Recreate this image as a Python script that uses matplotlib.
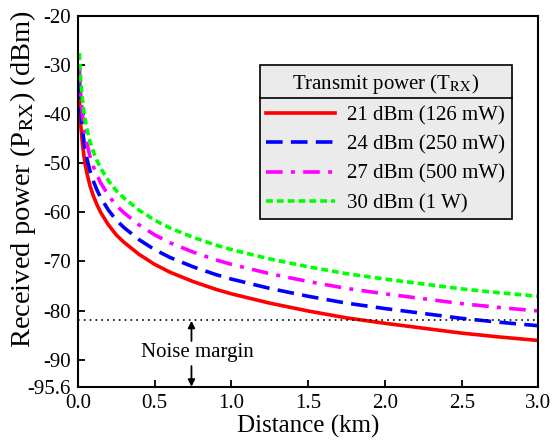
import matplotlib
matplotlib.use("Agg")
import matplotlib.pyplot as plt
from matplotlib.lines import Line2D
from matplotlib.transforms import IdentityTransform

plt.rcParams['font.family'] = ['Liberation Serif', 'DejaVu Serif']
plt.rcParams['mathtext.fontset'] = 'stix'

# distance (km) and received power (dBm) for each transmit power
dist = [0.01, 0.015, 0.02, 0.03, 0.04, 0.05, 0.06, 0.08, 0.1, 0.125, 0.15, 0.2,
        0.25, 0.3, 0.4, 0.5, 0.6, 0.75, 0.9, 1.0, 1.25, 1.5, 1.75, 2.0, 2.25,
        2.5, 2.75, 3.0]
p21 = [-36.6, -40.1, -42.6, -46.1, -48.6, -50.6, -52.2, -54.7, -56.6, -58.5,
       -60.1, -62.6, -64.6, -66.1, -68.6, -70.6, -72.2, -74.1, -75.7, -76.6,
       -78.5, -80.1, -81.5, -82.6, -83.6, -84.6, -85.4, -86.1]
p24 = [-33.6, -37.1, -39.6, -43.1, -45.6, -47.6, -49.2, -51.7, -53.6, -55.5,
       -57.1, -59.6, -61.6, -63.1, -65.6, -67.6, -69.2, -71.1, -72.7, -73.6,
       -75.5, -77.1, -78.5, -79.6, -80.6, -81.6, -82.4, -83.1]
p27 = [-30.6, -34.1, -36.6, -40.1, -42.6, -44.6, -46.2, -48.7, -50.6, -52.5,
       -54.1, -56.6, -58.6, -60.1, -62.6, -64.6, -66.2, -68.1, -69.7, -70.6,
       -72.5, -74.1, -75.5, -76.6, -77.6, -78.6, -79.4, -80.1]
p30 = [-27.6, -31.1, -33.6, -37.1, -39.6, -41.6, -43.2, -45.7, -47.6, -49.5,
       -51.1, -53.6, -55.6, -57.1, -59.6, -61.6, -63.2, -65.1, -66.7, -67.6,
       -69.5, -71.1, -72.5, -73.6, -74.6, -75.6, -76.4, -77.1]
labels = ['21 dBm (126 mW)', '24 dBm (250 mW)', '27 dBm (500 mW)', '30 dBm (1 W)']
noise_floor = -81.9
margin_x = 0.74

yticks = [-20, -30, -40, -50, -60, -70, -80, -90, -95.6]
yticklabels = ['-20', '-30', '-40', '-50', '-60', '-70', '-80', '-90', '-95.6']
xticks = [0.0, 0.5, 1.0, 1.5, 2.0, 2.5, 3.0]

fig = plt.figure(figsize=(5.56, 4.44), dpi=100)
ax = fig.add_axes([0.140, 0.128, 0.8285, 0.8366])

lw = 2.6
ax.plot(dist, p21, color='#ff0000', lw=lw, ls='-', label=labels[0])
ax.plot(dist, p24, color='#0000ff', lw=lw, ls=(0, (4.6, 2.3)), label=labels[1])
ax.plot(dist, p27, color='#ff00ff', lw=lw, ls=(0, (4.6, 2.3, 1.1, 2.3)), label=labels[2])
ax.plot(dist, p30, color='#00ff00', lw=lw, ls=(0, (1.9, 1.1)), label=labels[3])

# noise floor and margin annotation
ax.axhline(noise_floor, color='black', lw=1.2, ls=(0, (1, 2.5)))
ax.annotate('', xy=(margin_x, noise_floor - 0.2), xytext=(margin_x, -86.2),
            arrowprops=dict(arrowstyle='-|>', color='black', lw=1.3,
                            mutation_scale=10, shrinkA=0, shrinkB=0))
ax.annotate('', xy=(margin_x, -95.5), xytext=(margin_x, -91.3),
            arrowprops=dict(arrowstyle='-|>', color='black', lw=1.3,
                            mutation_scale=10, shrinkA=0, shrinkB=0))
ax.text(0.78, -88.6, 'Noise margin', fontsize=15, ha='center', va='center')

ax.set_xlim(0, 3.0)
ax.set_ylim(-95.6, -20)
ax.set_xticks(xticks)
ax.set_xticklabels([f'{v:.1f}' for v in xticks])
ax.set_yticks(yticks)
ax.set_yticklabels(yticklabels)
ax.tick_params(direction='in', length=5, width=1.3, labelsize=15,
               top=False, right=False, pad=5)
for s in ax.spines.values():
    s.set_linewidth(1.5)

ax.set_xlabel('Distance (km)', fontsize=18, labelpad=1)
ax.set_ylabel(r'Received power (P$_{\rm RX}$) (dBm)', fontsize=20.5)
ax.yaxis.set_label_coords(-0.086, 0.56)

leg = ax.legend(title=r'Transmit power (T$_{\rm RX}$)', loc='upper left',
                bbox_to_anchor=(0.395, 0.866), fontsize=15, title_fontsize=15,
                fancybox=False, edgecolor='black', facecolor='#ebebeb',
                framealpha=1, handlelength=3.3, handletextpad=0.6,
                labelspacing=0.47, borderpad=0.3, borderaxespad=0)
leg.get_frame().set_linewidth(1.2)

# separator under the legend title
fig.canvas.draw()
bb = leg.get_window_extent()
tb = leg.get_title().get_window_extent()
ysep = tb.y0 - 2
fig.add_artist(Line2D([bb.x0, bb.x1], [ysep, ysep], transform=IdentityTransform(),
                      color='black', lw=1.2, zorder=10))

fig.savefig('out.png', dpi=100)
